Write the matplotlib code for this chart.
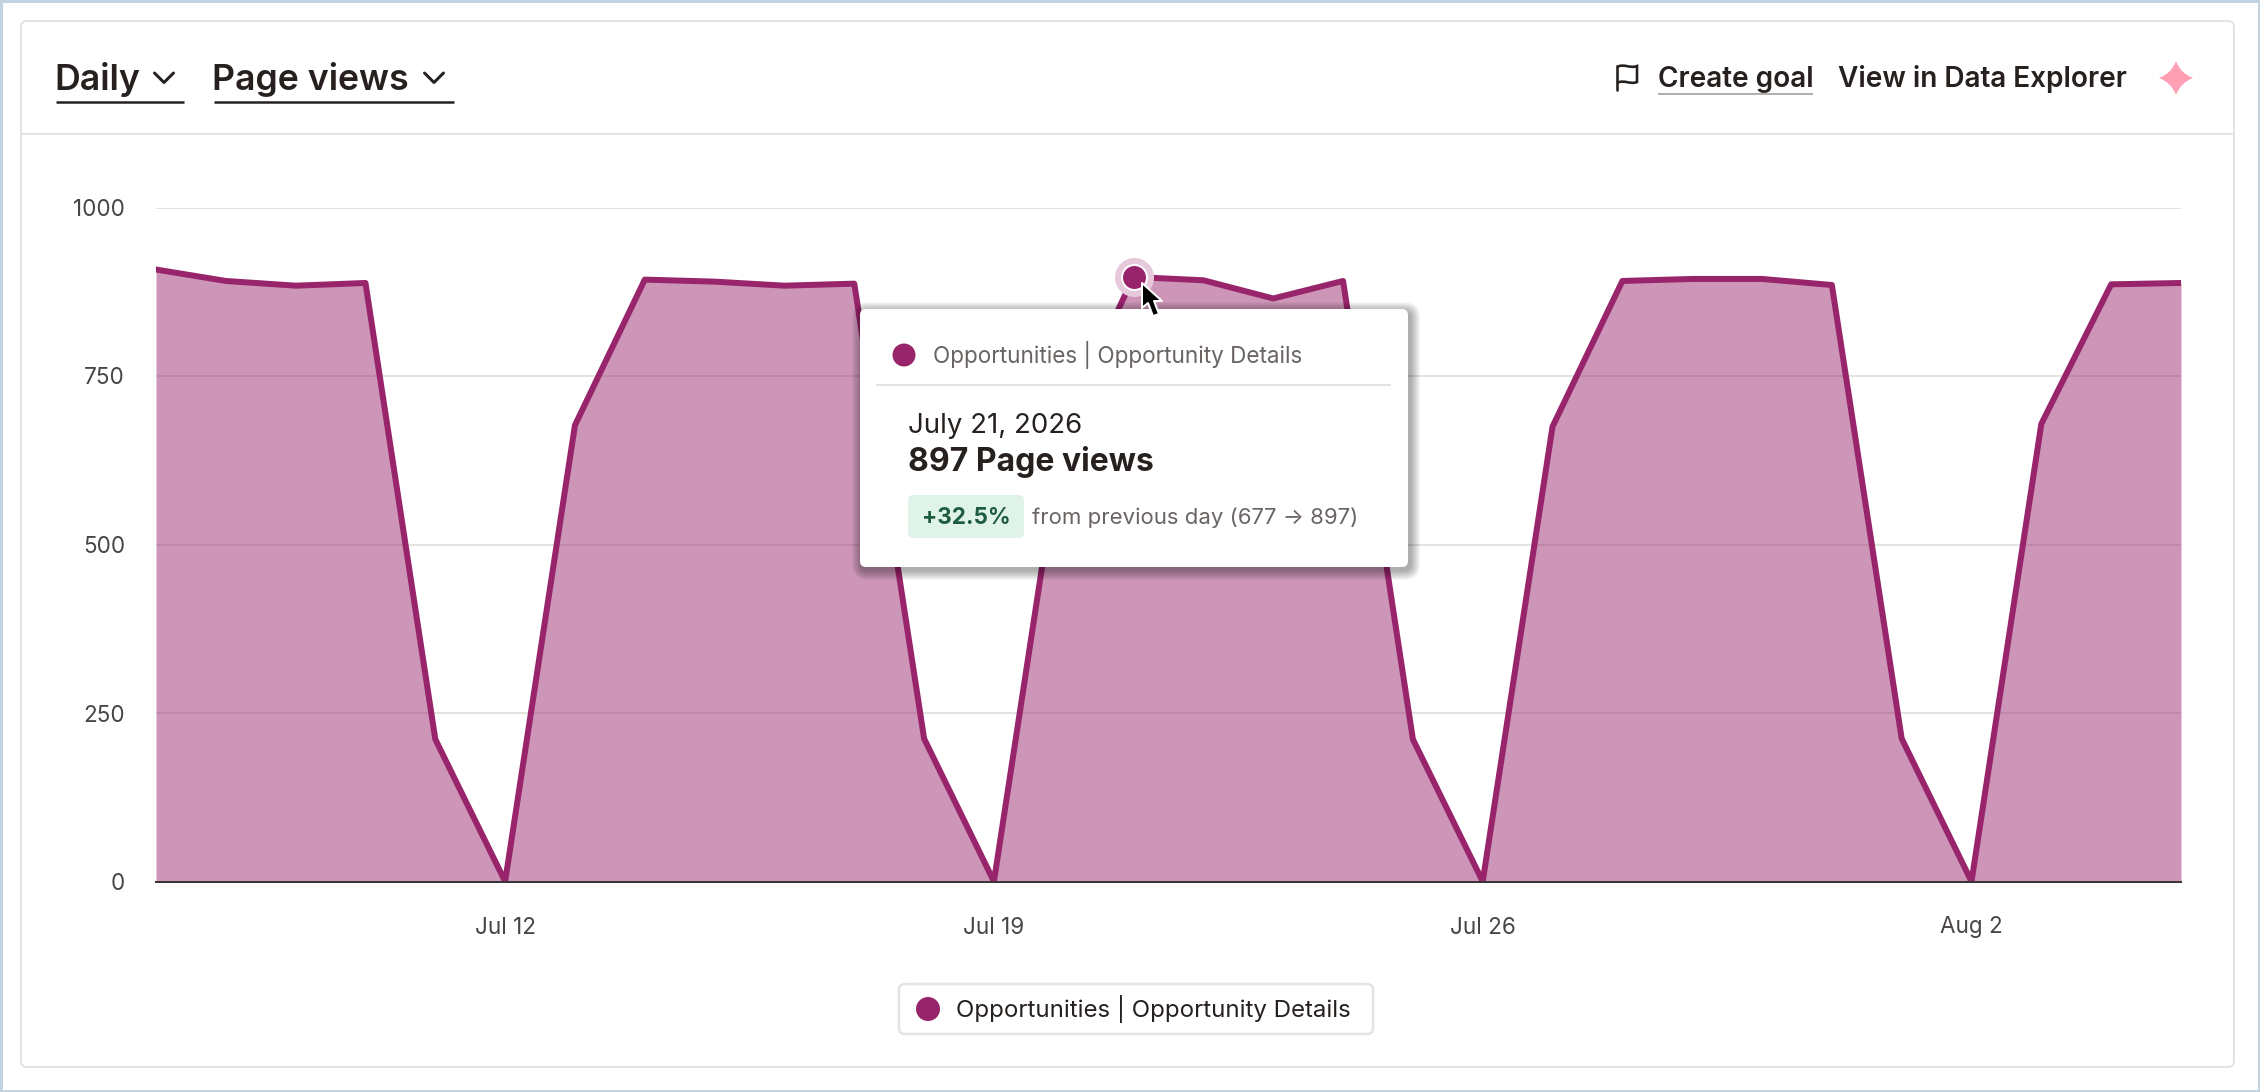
import datetime as dt
import matplotlib
matplotlib.use("Agg")
import matplotlib.pyplot as plt
import matplotlib.dates as mdates
from matplotlib.patches import FancyBboxPatch, Rectangle, Circle, PathPatch, Polygon
from matplotlib.path import Path

# ---- data ----
start_date = dt.date(2026, 7, 7)
page_views = [908, 891, 884, 888, 211, 0, 677, 893, 890, 884, 887, 212, 0, 677, 897,
              892, 865, 891, 211, 0, 675, 891, 894, 894, 885, 212, 0, 679, 886, 888]
dates = [start_date + dt.timedelta(days=i) for i in range(len(page_views))]
y_ticks = [0, 250, 500, 750, 1000]
x_ticks = [dt.date(2026, 7, 12), dt.date(2026, 7, 19), dt.date(2026, 7, 26), dt.date(2026, 8, 2)]
x_tick_labels = ["Jul 12", "Jul 19", "Jul 26", "Aug 2"]
hover_date = dt.date(2026, 7, 21)
hover_value = 897
series_name = "Opportunities | Opportunity Details"

# ---- style ----
W, H = 2260, 1092
FONT = "Inter"
PLUM = "#98246b"
GRID = "#e3e4df"
DARK = "#26211f"
MID = "#4a4545"
SOFT = "#6a6462"


def pt(px):
    return px * 72 / 100


plt.rcParams["font.family"] = [FONT, "DejaVu Sans"]
fig = plt.figure(figsize=(W / 100, H / 100), dpi=100, facecolor="white")


def pixel_axes(z):
    a = fig.add_axes([0, 0, 1, 1], zorder=z)
    a.set_xlim(0, W)
    a.set_ylim(H, 0)
    a.axis("off")
    a.patch.set_alpha(0)
    return a


def round_box(a, x0, y0, x1, y1, r, **kw):
    p = FancyBboxPatch((x0 + r, y0 + r), x1 - x0 - 2 * r, y1 - y0 - 2 * r,
                       boxstyle=f"round,pad={r},rounding_size={r}", **kw)
    a.add_patch(p)
    return p


# ---- background chrome ----
bg = pixel_axes(0)
bg.add_patch(Rectangle((1, 1), W - 2, H - 2, fc="white", ec="#c3d4e0", lw=pt(3)))
round_box(bg, 21, 21, 2234, 1067, 6, fc="white", ec=GRID, lw=pt(2))
bg.plot([21, 2234], [134, 134], color=GRID, lw=pt(2), solid_capstyle="butt")

bg.text(54.5, 90, "Daily", fontsize=pt(35.7), fontweight="semibold", color=DARK, va="baseline")
bg.text(212.5, 90, "Page views", fontsize=pt(35.7), fontweight="semibold", color=DARK, va="baseline")
for x0, x1 in [(56, 184), (214, 454)]:
    bg.plot([x0, x1], [102, 102], color=DARK, lw=pt(2.5), solid_capstyle="butt")
for cx in (164, 434):
    bg.plot([cx - 9.5, cx, cx + 9.5], [73, 82.5, 73], color=DARK, lw=pt(3),
            solid_capstyle="round", solid_joinstyle="round")

# flag icon
bg.plot([1617, 1617], [66, 90], color=DARK, lw=pt(2.6), solid_capstyle="round")
bg.add_patch(PathPatch(Path(
    [(1617, 67), (1624, 63), (1630, 69), (1637, 66), (1637, 82), (1630, 85), (1624, 79), (1617, 83)],
    [Path.MOVETO, Path.CURVE4, Path.CURVE4, Path.CURVE4, Path.LINETO, Path.CURVE4, Path.CURVE4, Path.CURVE4]),
    fc="none", ec=DARK, lw=pt(2.6)))

bg.text(1657.5, 87, "Create goal", fontsize=pt(28), fontweight="semibold", color=DARK, va="baseline")
bg.plot([1658, 1813], [94, 94], color="#b0b0ac", lw=pt(2), solid_capstyle="butt")
bg.text(1838, 87, "View in Data Explorer", fontsize=pt(28), fontweight="semibold", color=DARK, va="baseline")

# sparkle icon
sx, sy, sr = 2176, 78, 17
bg.add_patch(PathPatch(Path(
    [(sx, sy - sr), (sx + 4.5, sy - 4.5), (sx + sr, sy), (sx + 4.5, sy + 4.5), (sx, sy + sr),
     (sx - 4.5, sy + 4.5), (sx - sr, sy), (sx - 4.5, sy - 4.5), (sx, sy - sr)],
    [Path.MOVETO] + [Path.CURVE3] * 8), fc="#fe9fb4", ec="none"))

# legend
round_box(bg, 899, 984, 1373, 1034, 6, fc="white", ec=GRID, lw=pt(2.5))
bg.add_patch(Circle((928, 1009), 12, fc=PLUM, ec="none"))
bg.text(956, 1006, series_name, fontsize=pt(24.1), color=DARK, va="center_baseline")

# ---- chart ----
ax_left, ax_right, ax_top, ax_bottom = 156, 2181, 207.5, 881.5
ax = fig.add_axes([ax_left / W, 1 - ax_bottom / H, (ax_right - ax_left) / W, (ax_bottom - ax_top) / H],
                  zorder=1)
ax.patch.set_alpha(0)
ax.set_xlim(dates[0], dates[-1])
ax.set_ylim(0, 1000)
ax.yaxis.grid(True, color=GRID, lw=pt(2))
ax.set_axisbelow(True)
ax.fill_between(dates, page_views, 0, color=PLUM, alpha=0.48, lw=0, zorder=2)
ax.plot(dates, page_views, color=PLUM, lw=pt(6), solid_joinstyle="round", zorder=3)
for s in ("top", "left", "right"):
    ax.spines[s].set_visible(False)
ax.spines["bottom"].set_color("#3a3636")
ax.spines["bottom"].set_linewidth(pt(2))
ax.spines["bottom"].set_zorder(4)
ax.set_yticks(y_ticks)
ax.set_yticklabels([str(v) for v in y_ticks])
ax.set_xticks([mdates.date2num(d) for d in x_ticks])
ax.set_xticklabels(x_tick_labels)
ax.tick_params(axis="both", length=0, labelsize=pt(22.5), labelcolor=MID)
ax.tick_params(axis="y", pad=pt(31))
ax.tick_params(axis="x", pad=pt(35))

# hover marker
ax.plot([hover_date], [hover_value], "o", ms=pt(39), mfc="#e6c9db", mec="none", clip_on=False, zorder=5)
ax.plot([hover_date], [hover_value], "o", ms=pt(25), mfc=PLUM, mec="white", mew=pt(2), clip_on=False, zorder=6)

# ---- tooltip overlay ----
top = pixel_axes(2)
tx0, ty0, tx1, ty1 = 860, 309, 1408, 567
for g in range(10, 0, -1):
    round_box(top, tx0 - g + 2, ty0 - g + 3, tx1 + g + 2, ty1 + g + 3, 6 + g,
              fc="black", ec="none", alpha=0.035)
round_box(top, tx0, ty0, tx1, ty1, 6, fc="white", ec="none")
top.add_patch(Circle((904, 355), 11.5, fc=PLUM, ec="none"))
top.text(933, 352, series_name, fontsize=pt(22.5), color=SOFT, va="center_baseline")
top.plot([876, 1391], [385, 385], color=GRID, lw=pt(2), solid_capstyle="butt")
top.text(908, 433, "July 21, 2026", fontsize=pt(27.6), color=DARK, va="baseline")
top.text(908, 471.5, "897 Page views", fontsize=pt(32), fontweight="bold", color=DARK, va="baseline")
round_box(top, 908, 495, 1024, 538, 5, fc="#e0f3e8", ec="none")
top.text(966, 516, "+32.5%", fontsize=pt(22.5), fontweight="bold", color="#1d5c3f",
         ha="center", va="center_baseline")
top.text(1032.5, 516, "from previous day (677 \u2192 897)", fontsize=pt(22.2), color=SOFT,
         va="center_baseline")

# mouse cursor
top.add_patch(Polygon([(1142, 283), (1142, 308), (1148, 303), (1153, 316), (1159, 314), (1154, 301), (1162, 301)],
                      closed=True, fc="black", ec="white", lw=pt(2), joinstyle="round"))

fig.savefig("out.png", dpi=100)
